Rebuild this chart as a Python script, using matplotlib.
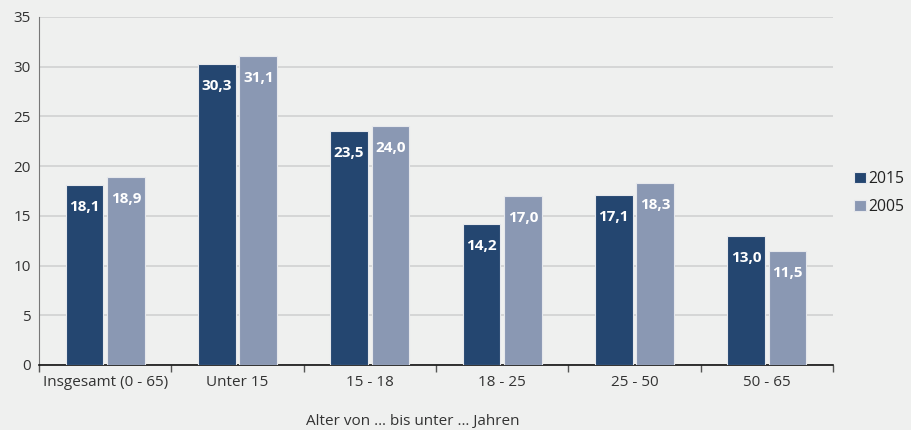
import matplotlib
matplotlib.use("Agg")
import matplotlib.pyplot as plt
import numpy as np

categories = ["Insgesamt (0 - 65)", "Unter 15", "15 - 18", "18 - 25", "25 - 50", "50 - 65"]
values_2015 = [18.1, 30.3, 23.5, 14.2, 17.1, 13.0]
values_2005 = [18.9, 31.1, 24.0, 17.0, 18.3, 11.5]
series_names = ["2015", "2005"]
xlabel = "Alter von … bis unter … Jahren"

plt.rcParams['font.family'] = ['Open Sans', 'DejaVu Sans']
bg = '#eff0ef'
c_dark = '#244670'
c_light = '#8a98b3'

fig = plt.figure(figsize=(9.11, 4.30), dpi=100, facecolor=bg)
ax = fig.add_axes([39/911, 1-365/430, (833-39)/911, (365-17)/430])
ax.set_facecolor(bg)

x = np.arange(len(categories))
w = 0.285
off = 0.157
b1 = ax.bar(x - off, values_2015, w, color=c_dark, edgecolor='#e6e8ec', linewidth=0.8, label=series_names[0], zorder=3)
b2 = ax.bar(x + off, values_2005, w, color=c_light, edgecolor='#e6e8ec', linewidth=0.8, label=series_names[1], zorder=3)

for bars, vals in ((b1, values_2015), (b2, values_2005)):
    for r, v in zip(bars, vals):
        ax.annotate(f"{v:.1f}".replace('.', ','), (r.get_x() + r.get_width()/2, v),
                    xytext=(0, -22), textcoords='offset pixels',
                    ha='center', va='center', color='white', fontsize=11, fontweight='bold', zorder=4)

ax.set_xlim(-0.5, len(categories) - 0.5)
ax.set_ylim(0, 35)
ax.set_yticks(np.arange(0, 36, 5))
ax.yaxis.grid(True, color='#d0d1d1', linewidth=1.2, zorder=0)
ax.set_axisbelow(True)
ax.tick_params(axis='y', length=0, labelsize=11, colors='#333333', pad=6)
ax.set_xticks(x)
ax.set_xticklabels(categories)
ax.tick_params(axis='x', length=0, labelsize=11, colors='#333333', pad=7)
ax.set_xticks(np.arange(len(categories) + 1) - 0.5, minor=True)
ax.tick_params(axis='x', which='minor', length=5, color='#555555', width=1)

for s in ('top', 'right'):
    ax.spines[s].set_visible(False)
ax.spines['left'].set_color('#777777')
ax.spines['bottom'].set_color('#111111')
ax.spines['bottom'].set_linewidth(1.2)

leg = fig.legend(handles=[b1, b2], labels=series_names, loc='upper left',
                 bbox_to_anchor=(854/911, 1-171/430), frameon=False, fontsize=11.3,
                 handlelength=0.75, handleheight=0.75, handletextpad=0.15, labelspacing=0.75,
                 borderaxespad=0, borderpad=0)
for t in leg.get_texts():
    t.set_color('#222222')

fig.text(413/911, 1-421/430, xlabel, ha='center', va='center', fontsize=11, color='#333333')

fig.savefig('out.png', dpi=100, facecolor=bg)
